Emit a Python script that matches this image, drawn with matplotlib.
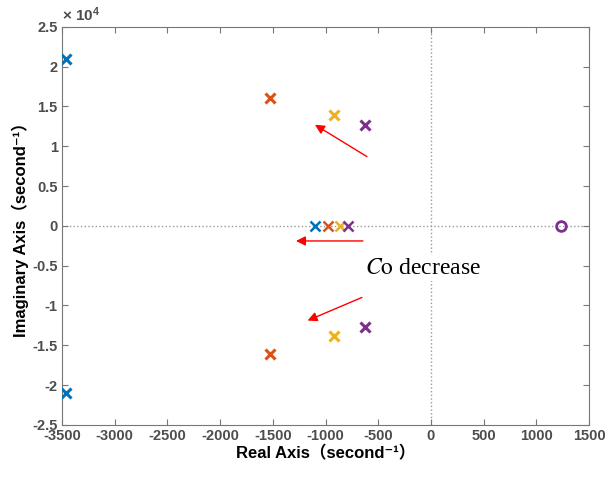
import numpy as np
import matplotlib
matplotlib.use("Agg")
import matplotlib.pyplot as plt
from matplotlib.ticker import FuncFormatter

plt.rcParams['font.family'] = ['Liberation Sans', 'Noto Sans CJK SC', 'DejaVu Sans']
plt.rcParams['axes.unicode_minus'] = False
plt.rcParams['mathtext.fontset'] = 'stix'

# pole locations for four values of Co (real part, imaginary part)
colors = ['#0072BD', '#D95319', '#EDB120', '#7E2F8E']
pole_re_complex = [-3465, -1525, -920, -625]
pole_im_complex = [2.10e4, 1.61e4, 1.39e4, 1.27e4]
pole_re_real = [-1100, -975, -865, -790]
zero_re = [1235]
zero_im = [0]

# arrows: (tail x, tail y, head x, head y)
arrow_tail_x = [-607, -645, -655]
arrow_tail_y = [0.87e4, -0.19e4, -0.90e4]
arrow_head_x = [-1100, -1280, -1170]
arrow_head_y = [1.27e4, -0.19e4, -1.19e4]

fig = plt.figure(figsize=(6.13, 4.8), dpi=100)
ax = fig.add_axes([0.101, 0.115, 0.86, 0.829])

gray = '#4d4d4d'
ax.axhline(0, color='#999999', ls=':', lw=1, zorder=1)
ax.axvline(0, color='#999999', ls=':', lw=1, zorder=1)

for i, c in enumerate(colors):
    ax.plot([pole_re_complex[i], pole_re_complex[i]],
            [pole_im_complex[i], -pole_im_complex[i]],
            ls='none', marker='x', ms=7.5, mew=2.2, color=c, zorder=3)
    ax.plot(pole_re_real[i], 0, ls='none', marker='x', ms=7.5, mew=1.8,
            color=c, zorder=3)
ax.plot(zero_re, zero_im, ls='none', marker='o', ms=7, mew=2,
        mfc='none', color=colors[3], zorder=3)

for tx, ty, hx, hy in zip(arrow_tail_x, arrow_tail_y, arrow_head_x, arrow_head_y):
    ax.annotate('', xy=(hx, hy), xytext=(tx, ty),
                arrowprops=dict(arrowstyle='-|>', color='red', lw=1,
                                mutation_scale=14, shrinkA=0, shrinkB=0))

ax.text(-630, -0.53e4, r'$\mathit{C}\mathrm{o}$ decrease', fontsize=17,
        family='Liberation Serif', ha='left', va='center',
        bbox=dict(facecolor='white', edgecolor='none', pad=2), zorder=2)

ax.set_xlim(-3500, 1500)
ax.set_ylim(-2.5e4, 2.5e4)
ax.set_xticks(np.arange(-3500, 1501, 500))
ax.set_yticks(np.arange(-2.5e4, 2.51e4, 0.5e4))
ax.yaxis.set_major_formatter(FuncFormatter(lambda v, p: '%g' % (v / 1e4)))
ax.tick_params(direction='in', top=True, right=True, colors='#777777',
               labelcolor=gray, labelsize=10.5, length=4, pad=3)
for lab in ax.get_xticklabels() + ax.get_yticklabels():
    lab.set_fontweight('bold')
for s in ax.spines.values():
    s.set_color('#777777')

ax.text(0.0, 1.008, '× 10$^{\\mathregular{4}}$', transform=ax.transAxes,
        fontsize=11, color=gray, fontweight='bold', va='bottom',
        family='Liberation Sans')

ax.set_xlabel('Real Axis（second⁻¹）', fontsize=12,
              fontweight='bold', labelpad=2)
ax.set_ylabel('Imaginary Axis（second⁻¹）', fontsize=12,
              fontweight='bold', labelpad=2)

fig.savefig('out.png', dpi=100)
